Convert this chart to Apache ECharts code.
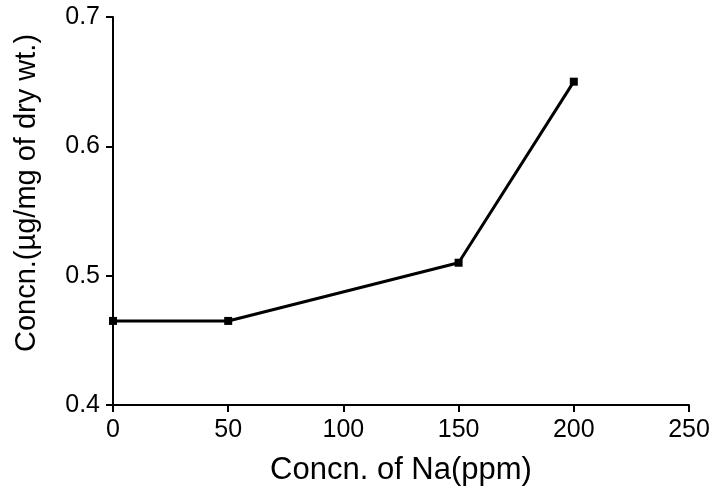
<!DOCTYPE html>
<html>
<head>
<meta charset="utf-8">
<script src="https://cdn.jsdelivr.net/npm/echarts@6/dist/echarts.min.js"></script>
<style>
  html, body { margin: 0; padding: 0; background: #fff; }
  #chart { width: 717px; height: 502px; }
</style>
</head>
<body>
<div id="chart"></div>
<script>
  // values
  const naPpm = [0, 50, 150, 200]
  const concn = [0.465, 0.465, 0.51, 0.65]

  const chart = echarts.init(document.getElementById('chart'))
  const font = '"Liberation Sans", Arial, sans-serif'
  const axisLine = { show: true, onZero: false, lineStyle: { color: '#000', width: 2 } }
  const axisTick = { show: true, inside: false, length: 7, lineStyle: { color: '#000', width: 2 } }

  chart.setOption({
    animation: false,
    grid: { left: 113, right: 28, top: 17, bottom: 97, containLabel: false },
    xAxis: {
      type: 'value',
      min: 0,
      max: 250,
      interval: 50,
      name: 'Concn. of Na(ppm)',
      nameLocation: 'middle',
      nameGap: 50,
      nameTextStyle: { color: '#000', fontSize: 31, fontFamily: font },
      axisLine: axisLine,
      axisTick: axisTick,
      splitLine: { show: false },
      axisLabel: { color: '#000', fontSize: 25, fontFamily: font, margin: 13 }
    },
    yAxis: {
      type: 'value',
      min: 0.4,
      max: 0.7,
      interval: 0.1,
      name: 'Concn.(µg/mg of dry wt.)',
      nameLocation: 'middle',
      nameGap: 72,
      nameTextStyle: {
        color: '#000', fontSize: 29, fontFamily: font,
        padding: [0, 0, 0, 36]
      },
      axisLine: axisLine,
      axisTick: axisTick,
      splitLine: { show: false },
      axisLabel: {
        color: '#000', fontSize: 25, fontFamily: font, margin: 13,
        formatter: v => v.toFixed(1)
      }
    },
    series: [
      {
        type: 'line',
        data: naPpm.map((x, i) => [x, concn[i]]),
        symbol: 'rect',
        symbolSize: 8,
        itemStyle: { color: '#000' },
        lineStyle: { color: '#000', width: 3 }
      }
    ]
  })
</script>
</body>
</html>
